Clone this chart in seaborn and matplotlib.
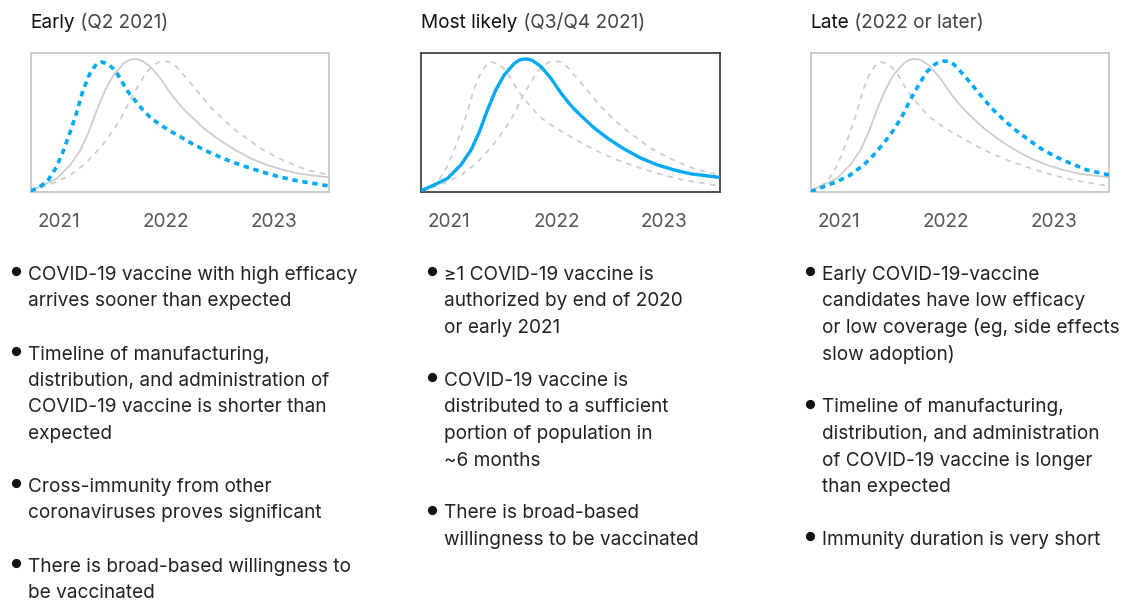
import matplotlib
matplotlib.use("Agg")
import matplotlib.pyplot as plt
from matplotlib.lines import Line2D
import seaborn as sns

# x in quarters (0 = Q1 2021), y = relative share (0..1 of panel height)
early_x = [-1.04, -0.77, -0.40, -0.09, 0.16, 0.41, 0.66, 0.90, 1.15, 1.40, 1.59,
           1.80, 2.02, 2.21, 2.39, 2.58, 2.83, 3.13, 3.44, 3.82, 4.19, 4.50,
           5.05, 5.67, 6.29, 6.91, 7.53, 8.15, 8.77, 10.05]
early_y = [0.012, 0.029, 0.084, 0.179, 0.291, 0.422, 0.566, 0.728, 0.847, 0.919, 0.933,
           0.922, 0.888, 0.84, 0.78, 0.72, 0.66, 0.59, 0.53, 0.478, 0.434, 0.400,
           0.339, 0.280, 0.229, 0.186, 0.148, 0.114, 0.086, 0.045]

mid_x = [-1.04, -0.56, -0.06, 0.43, 0.81, 1.12, 1.42, 1.73, 2.04, 2.42, 2.62, 2.79,
         2.95, 3.10, 3.41, 3.78, 4.15, 4.42, 4.65, 4.89, 5.39, 5.88, 6.50, 7.12, 7.74,
         8.36, 8.98, 10.05]
mid_y = [0.012, 0.053, 0.10, 0.196, 0.303, 0.434, 0.59, 0.733, 0.84, 0.924, 0.948, 0.955,
         0.953, 0.943, 0.90, 0.816, 0.712, 0.645, 0.595, 0.550, 0.460, 0.388, 0.31, 0.245,
         0.196, 0.16, 0.132, 0.107]

late_x = [-1.04, -0.56, -0.06, 0.43, 0.93, 1.30, 1.67, 2.04, 2.35, 2.66, 2.97, 3.28,
          3.59, 3.75, 3.90, 4.05, 4.21, 4.40, 4.83, 5.27, 5.70, 6.14, 6.57, 7.07,
          7.56, 8.12, 8.68, 9.23, 10.05]
late_y = [0.005, 0.04, 0.076, 0.124, 0.196, 0.267, 0.35, 0.446, 0.542, 0.661, 0.768, 0.864,
          0.919, 0.934, 0.94, 0.937, 0.928, 0.895, 0.80, 0.697, 0.60, 0.518, 0.446, 0.375,
          0.308, 0.25, 0.203, 0.16, 0.124]

tick_pos = list(range(10))
tick_labels = ["2021", "", "", "", "2022", "", "", "", "2023", ""]

titles = [("Early", "(Q2 2021)"),
          ("Most likely", "(Q3/Q4 2021)"),
          ("Late", "(2022 or later)")]
highlight = ["early", "mid", "late"]

bullets = [
    [["COVID-19 vaccine with high efficacy", "arrives sooner than expected"],
     ["Timeline of manufacturing,", "distribution, and administration of",
      "COVID-19 vaccine is shorter than", "expected"],
     ["Cross-immunity from other", "coronaviruses proves significant"],
     ["There is broad-based willingness to", "be vaccinated"]],
    [["\u22651 COVID-19 vaccine is", "authorized by end of 2020", "or early 2021"],
     ["COVID-19 vaccine is", "distributed to a sufficient",
      "portion of population in", "~6 months"],
     ["There is broad-based", "willingness to be vaccinated"]],
    [["Early COVID-19-vaccine", "candidates have low efficacy",
      "or low coverage (eg, side effects", "slow adoption)"],
     ["Timeline of manufacturing,", "distribution, and administration",
      "of COVID-19 vaccine is longer", "than expected"],
     ["Immunity duration is very short"]],
]

BLUE = "#00a9f4"
GREY = "#cdcdcd"
W, H = 1126, 602

sns.set_style("white")
plt.rcParams["font.family"] = ["Inter", "DejaVu Sans"]

fig = plt.figure(figsize=(W / 100, H / 100), dpi=100)

curves = {"early": (early_x, early_y), "mid": (mid_x, mid_y), "late": (late_x, late_y)}
panel_left = [30.7, 421.3, 810.7]
text_left = [28.2, 444.0, 822.0]
panel_w = 298.3
panel_top, panel_bot = 52.7, 192.3
fs = 13.7
line_h = 26.5

for i in range(3):
    ax = fig.add_axes([panel_left[i] / W, 1 - panel_bot / H, panel_w / W,
                       (panel_bot - panel_top) / H])
    hl = highlight[i]
    for name, (xs, ys) in curves.items():
        if name == hl:
            continue
        if name == "mid":
            sns.lineplot(x=xs, y=ys, ax=ax, color=GREY, linewidth=1.3, sort=False)
        else:
            sns.lineplot(x=xs, y=ys, ax=ax, color=GREY, linewidth=1.3,
                         linestyle=(0, (3, 3)), sort=False)
    xs, ys = curves[hl]
    if hl == "mid":
        sns.lineplot(x=xs, y=ys, ax=ax, color=BLUE, linewidth=2.4, sort=False, zorder=5)
    else:
        sns.lineplot(x=xs, y=ys, ax=ax, color=BLUE, linewidth=2.6,
                     linestyle=(0, (1.5, 1.3)), sort=False, zorder=5)

    ax.set_xlim(-1.04, 10.05)
    ax.set_ylim(0, 1)
    ax.set_yticks([])
    ax.set_xticks(tick_pos)
    ax.set_xticklabels(tick_labels)
    ax.tick_params(axis="x", direction="in", length=5, width=1, color="#c8c8c8",
                   pad=15, labelsize=fs, labelcolor="#555555")
    ax.set_xlabel("")
    ax.set_ylabel("")
    frame = "#333333" if i == 1 else "#c4c4c4"
    for sp in ax.spines.values():
        sp.set_visible(True)
        sp.set_color(frame)
        sp.set_linewidth(1.2)

    # title: scenario name + timing in grey
    t1 = fig.text(panel_left[i] / W, 1 - 27.7 / H, titles[i][0], fontsize=fs,
                  color="#111111", va="baseline", ha="left")
    ax.annotate(" " + titles[i][1], xy=(1, 0), xycoords=t1, fontsize=fs,
                color="#444444", va="bottom", ha="left", annotation_clip=False)

    # bullet list
    text_x = text_left[i]
    line = 0
    for item in bullets[i]:
        base = 280 + line * line_h
        fig.add_artist(Line2D([(text_x - 12.3) / W], [1 - (base - 9) / H], marker="o",
                              markersize=5.6, color="#111111", linestyle="none",
                              transform=fig.transFigure))
        for k, txt in enumerate(item):
            fig.text(text_x / W, 1 - (base + k * line_h) / H, txt, fontsize=fs,
                     color="#222222", va="baseline", ha="left")
        line += len(item) + 1

fig.savefig("out.png", dpi=100)
